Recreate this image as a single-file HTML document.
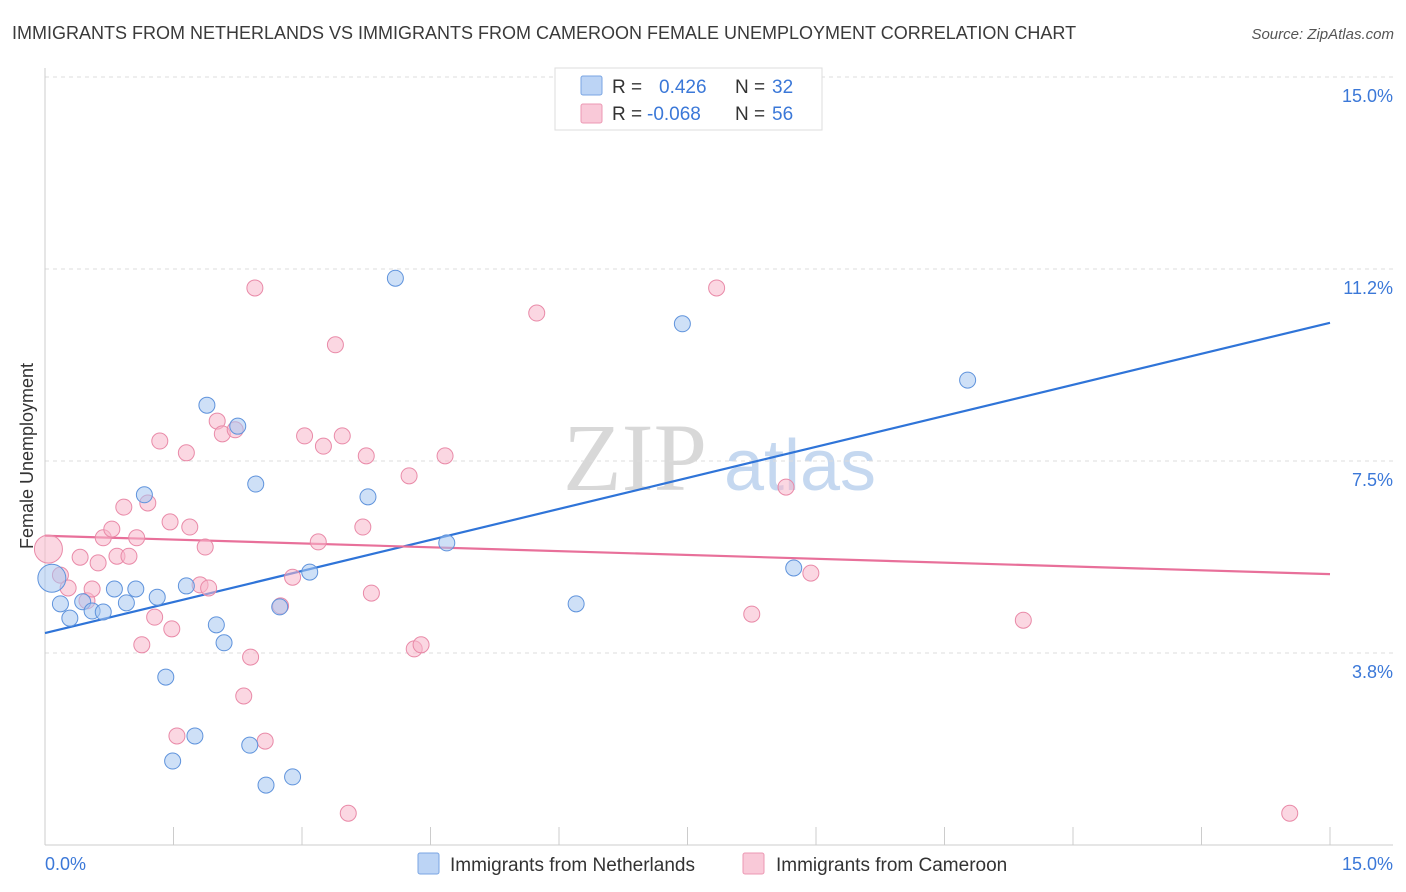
<!DOCTYPE html>
<html><head><meta charset="utf-8"><style>
body{margin:0;background:#fff;font-family:"Liberation Sans",sans-serif;}
svg{display:block}
</style></head><body>
<svg id="chart" width="1406" height="892">
<text x="12" y="39" font-size="18" fill="#3a3a3a">IMMIGRANTS FROM NETHERLANDS VS IMMIGRANTS FROM CAMEROON FEMALE UNEMPLOYMENT CORRELATION CHART</text>
<text x="1394" y="39" font-size="15" font-style="italic" fill="#555" text-anchor="end">Source: ZipAtlas.com</text>
<g>
<text x="635" y="490" font-size="96" font-family="Liberation Serif,serif" fill="#d8d8d8" text-anchor="middle">ZIP</text>
<text x="800" y="490" font-size="72" fill="#c5d8f0" text-anchor="middle">atlas</text>
</g>
<g id="grid"></g>
<g id="axes"></g>
<g id="lines"></g>
<g id="points"></g>
<text transform="translate(33,456) rotate(-90)" font-size="18" fill="#333" text-anchor="middle">Female Unemployment</text>
<text x="45" y="870" font-size="18" fill="#3b78d8">0.0%</text>
<text x="1393" y="870" font-size="18" fill="#3b78d8" text-anchor="end">15.0%</text>
<g>
<rect x="555" y="68" width="267" height="62" fill="#fff" stroke="#ddd"/>
<rect x="581" y="76" width="21" height="19" fill="#bcd4f5" stroke="#7aa5e3" rx="2"/>
<rect x="581" y="104" width="21" height="19" fill="#f9c9d8" stroke="#ec98b3" rx="2"/>
<text x="612" y="93" font-size="19" fill="#333">R = </text><text x="659" y="93" font-size="19" fill="#3b78d8">0.426</text>
<text x="735" y="93" font-size="19" fill="#333">N = </text><text x="772" y="93" font-size="19" fill="#3b78d8">32</text>
<text x="612" y="120" font-size="19" fill="#333">R = </text><text x="647" y="120" font-size="19" fill="#3b78d8">-0.068</text>
<text x="735" y="120" font-size="19" fill="#333">N = </text><text x="772" y="120" font-size="19" fill="#3b78d8">56</text>
</g>
<g>
<rect x="418" y="853" width="21" height="21" fill="#bcd4f5" stroke="#7aa5e3" rx="2"/>
<text x="450" y="871" font-size="19" fill="#333">Immigrants from Netherlands</text>
<rect x="743" y="853" width="21" height="21" fill="#f9c9d8" stroke="#ec98b3" rx="2"/>
<text x="776" y="871" font-size="19" fill="#333">Immigrants from Cameroon</text>
</g>
</svg>
<script>
const yTicks=[3.75,7.5,11.25,15];
const yTickLabels=["3.8%","7.5%","11.2%","15.0%"];
const xTicks=[0,1.5,3,4.5,6,7.5,9,10.5,12,13.5,15];
const blueX=[0.08,0.18,0.29,0.44,0.55,0.68,0.81,0.95,1.06,1.16,1.31,1.41,1.49,1.65,1.75,1.89,2.00,2.09,2.25,2.39,2.46,2.58,2.74,2.89,3.09,3.77,4.09,4.69,6.20,7.44,8.74,10.77];
const blueY=[5.21,4.71,4.43,4.75,4.57,4.55,5.00,4.73,5.00,6.84,4.84,3.28,1.64,5.06,2.13,8.59,4.30,3.95,8.18,1.95,7.05,1.17,4.65,1.33,5.33,6.80,11.07,5.90,4.71,10.18,5.41,9.08];
const pinkX=[0.04,0.18,0.27,0.41,0.49,0.55,0.62,0.68,0.78,0.84,0.92,0.98,1.07,1.13,1.20,1.28,1.34,1.46,1.48,1.54,1.65,1.69,1.81,1.87,1.91,2.01,2.07,2.22,2.32,2.40,2.45,2.57,2.75,2.89,3.03,3.19,3.25,3.39,3.47,3.54,3.71,3.75,3.81,4.25,4.31,4.39,4.67,5.74,7.84,8.25,8.65,8.94,11.42,14.53];
const pinkY=[5.78,5.27,5.02,5.62,4.77,5.00,5.51,6.00,6.17,5.64,6.60,5.64,6.00,3.91,6.68,4.45,7.89,6.31,4.22,2.13,7.66,6.21,5.08,5.82,5.02,8.28,8.03,8.11,2.91,3.67,10.88,2.03,4.67,5.23,7.99,5.92,7.79,9.77,7.99,0.62,6.21,7.60,4.92,7.21,3.83,3.91,7.60,10.39,10.88,4.51,6.99,5.31,4.39,0.62];
const blueTrend=[4.14,10.2];
const pinkTrend=[6.04,5.29];
const NS="http://www.w3.org/2000/svg";
const X=v=>45+v*(1285/15);
const Y=v=>845-v*51.2;
function mk(tag,attrs,parent){const e=document.createElementNS(NS,tag);for(const k in attrs)e.setAttribute(k,attrs[k]);document.getElementById(parent).appendChild(e);return e;}
yTicks.forEach((t,i)=>{
 const l=mk('line',{x1:45,x2:1393,y1:Y(t),y2:Y(t),stroke:'#ddd','stroke-dasharray':'4,4'},'grid');
 
 
 const tx=mk('text',{x:1393,y:Y(t)+25,'font-size':18,fill:'#3b78d8','text-anchor':'end'},'grid');
 tx.textContent=yTickLabels[i];
 
 
});
const ax=mk('line',{x1:45,x2:1393,y1:845,y2:845,stroke:'#ccc'},'axes');


const ay=mk('line',{x1:45,x2:45,y1:68,y2:845,stroke:'#ccc'},'axes');


xTicks.forEach(t=>{
 const l=mk('line',{x1:X(t),x2:X(t),y1:827,y2:845,stroke:'#ccc'},'axes');
 
 
});
function pts(xs,ys,fill,stroke,name){
 xs.forEach((x,i)=>{
  const r=i===0?14:8;
  const c=mk('circle',{cx:X(x),cy:Y(ys[i]),r:r,fill:fill,'fill-opacity':0.55,stroke:stroke,'stroke-width':1},'points');
  
  
 });
}
pts(pinkX,pinkY,'#f7b6ca','#e98aa8','point-cameroon');
pts(blueX,blueY,'#a6c6f0','#5f93dc','point-netherlands');
const bl=mk('line',{x1:X(0),y1:Y(blueTrend[0]),x2:X(15),y2:Y(blueTrend[1]),stroke:'#2f74d8','stroke-width':2.2},'lines');


const pl=mk('line',{x1:X(0),y1:Y(pinkTrend[0]),x2:X(15),y2:Y(pinkTrend[1]),stroke:'#e8709a','stroke-width':2.2},'lines');


</script>
</body></html>
